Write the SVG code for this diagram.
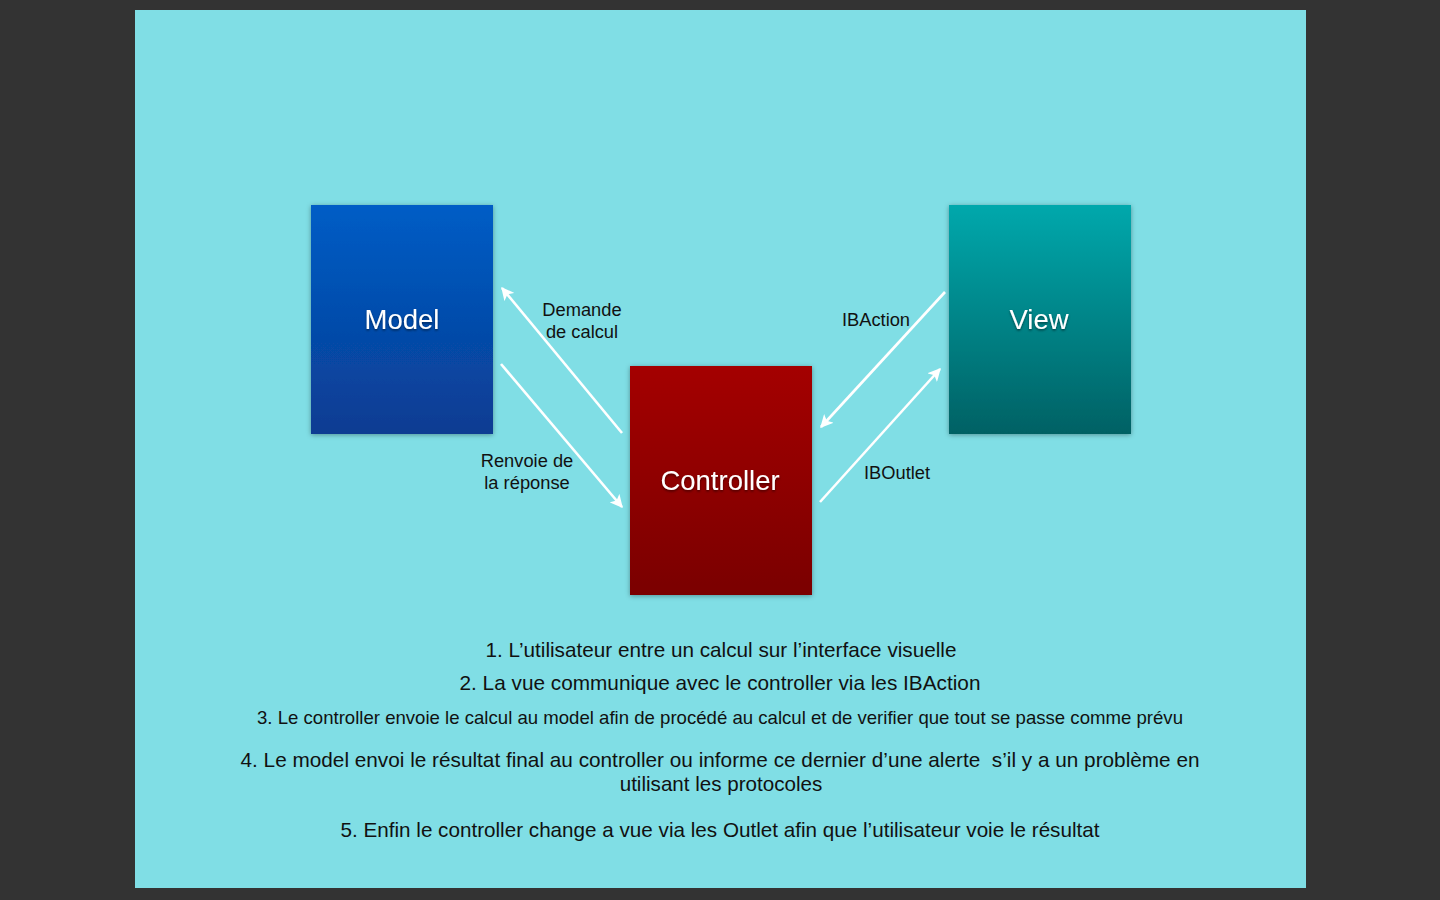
<svg xmlns="http://www.w3.org/2000/svg" width="1440" height="900" viewBox="0 0 1440 900">
<defs>
<linearGradient id="gModel" x1="0" y1="0" x2="0" y2="1"><stop offset="0" stop-color="#005DC6"/><stop offset="1" stop-color="#0A3C92"/></linearGradient>
<linearGradient id="gView" x1="0" y1="0" x2="0" y2="1"><stop offset="0" stop-color="#00A8AC"/><stop offset="1" stop-color="#006164"/></linearGradient>
<linearGradient id="gCtrl" x1="0" y1="0" x2="0" y2="1"><stop offset="0" stop-color="#A40000"/><stop offset="1" stop-color="#7A0000"/></linearGradient>
<filter id="shadow" x="-10%" y="-10%" width="120%" height="120%"><feDropShadow dx="0" dy="1" stdDeviation="2.5" flood-color="#000" flood-opacity="0.35"/></filter>
<filter id="tshadow" x="-10%" y="-20%" width="120%" height="140%"><feDropShadow dx="0" dy="1.5" stdDeviation="1" flood-color="#000" flood-opacity="0.5"/></filter>
<marker id="arrow" viewBox="0 0 10 10" refX="9" refY="5" markerWidth="5" markerHeight="5" orient="auto-start-reverse" markerUnits="strokeWidth"><path d="M0,0 L10,5 L0,10 L2.5,5 z" fill="#fff"/></marker>
<style>
.node-label{font-family:"Liberation Sans",Arial,sans-serif;font-size:27.5px;fill:#fff;text-anchor:middle;filter:url(#tshadow)}
.edge-label{font-family:"Liberation Sans",Arial,sans-serif;font-size:18.3px;fill:#111;text-anchor:middle}
.note{font-family:"Liberation Sans",Arial,sans-serif;font-size:20.6px;fill:#111;text-anchor:middle}
.note-small{font-family:"Liberation Sans",Arial,sans-serif;font-size:18.4px;fill:#111;text-anchor:middle}
.conn{stroke:#fff;stroke-width:2.6;fill:none}
</style>
</defs>
<rect x="0" y="0" width="1440" height="900" fill="#333333"/>
<rect x="135" y="10" width="1171" height="878" fill="#80DEE5"/>

<g id="model">
<rect x="311" y="205" width="182" height="229" fill="url(#gModel)" filter="url(#shadow)"/>
<text class="node-label" x="402" y="329">Model</text>
</g>
<g id="view">
<rect x="949" y="205" width="182" height="229" fill="url(#gView)" filter="url(#shadow)"/>
<text class="node-label" x="1039" y="329">View</text>
</g>
<g id="controller">
<rect x="630" y="366" width="182" height="229" fill="url(#gCtrl)" filter="url(#shadow)"/>
<text class="node-label" x="720" y="490">Controller</text>
</g>

<g id="connectors">
<line class="conn" x1="622" y1="433" x2="502" y2="288" marker-end="url(#arrow)"/>
<line class="conn" x1="501" y1="364" x2="622" y2="507" marker-end="url(#arrow)"/>
<line class="conn" x1="945" y1="292" x2="821" y2="427" marker-end="url(#arrow)"/>
<line class="conn" x1="820" y1="502" x2="940" y2="369" marker-end="url(#arrow)"/>
<text class="edge-label" x="582" y="316">Demande</text>
<text class="edge-label" x="582" y="338">de calcul</text>
<text class="edge-label" x="527" y="467">Renvoie de</text>
<text class="edge-label" x="527" y="489">la réponse</text>
<text class="edge-label" x="876" y="326">IBAction</text>
<text class="edge-label" x="897" y="479">IBOutlet</text>
</g>

<g id="notes">
<text class="note" x="721" y="657" textLength="471" lengthAdjust="spacingAndGlyphs">1. L’utilisateur entre un calcul sur l’interface visuelle</text>
<text class="note" x="720" y="690" textLength="521" lengthAdjust="spacingAndGlyphs">2. La vue communique avec le controller via les IBAction</text>
<text class="note-small" x="720" y="724" textLength="926" lengthAdjust="spacingAndGlyphs">3. Le controller envoie le calcul au model afin de procédé au calcul et de verifier que tout se passe comme prévu</text>
<text class="note" x="720" y="767" xml:space="preserve" style="white-space:pre" textLength="959" lengthAdjust="spacingAndGlyphs">4. Le model envoi le résultat final au controller ou informe ce dernier d’une alerte  s’il y a un problème en</text>
<text class="note" x="721" y="791">utilisant les protocoles</text>
<text class="note" x="720" y="837" textLength="759" lengthAdjust="spacingAndGlyphs">5. Enfin le controller change a vue via les Outlet afin que l’utilisateur voie le résultat</text>
</g>
</svg>
